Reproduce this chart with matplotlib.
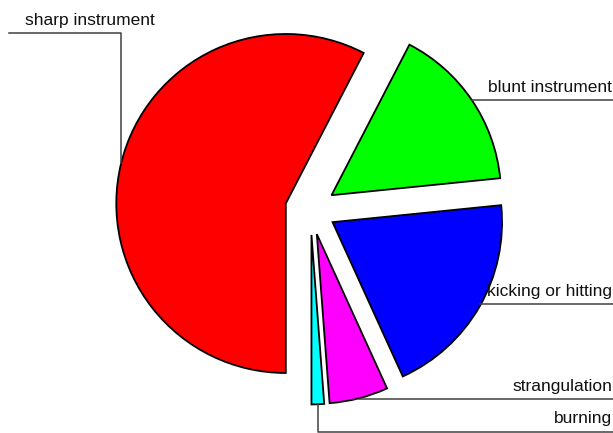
import numpy as np
import matplotlib
matplotlib.use('Agg')
import matplotlib.pyplot as plt

plt.rcParams['font.family'] = ['Liberation Sans', 'DejaVu Sans']

labels = ['sharp instrument', 'blunt instrument', 'kicking or hitting',
          'strangulation', 'burning']
values = [57.6, 15.8, 19.8, 5.6, 1.2]
colors = ['#ff0000', '#00ff00', '#0000ff', '#ff00ff', '#00ffff']

W, H = 613, 433
cx, cy = 310.5, 209.5   # pie centre, pixels
R = 169.5               # radius, pixels
line_col = '#404040'


def px(x, y):
    return (x - cx) / R, (cy - y) / R


fig = plt.figure(figsize=(W / 100, H / 100), dpi=100)
ax = fig.add_axes([0, 0, 1, 1])
wedges, _ = ax.pie(values, colors=colors, startangle=270, counterclock=False,
                   explode=[0.15] * len(values), radius=1.0,
                   wedgeprops={'edgecolor': 'black', 'linewidth': 1.3})
ax.set_aspect('auto')
ax.set_xlim(-cx / R, (W - cx) / R)
ax.set_ylim((cy - H) / R, cy / R)
ax.axis('off')

# y of the leader line for each label, in px
leaders = {
    'sharp instrument': 32.7,
    'blunt instrument': 100,
    'kicking or hitting': 304,
    'strangulation': 399,
    'burning': 431.5,
}

for w, lab in zip(wedges, labels):
    mid = np.deg2rad((w.theta1 + w.theta2) / 2)
    ax0 = w.center[0] + w.r * np.cos(mid)
    ay0 = w.center[1] + w.r * np.sin(mid)
    _, ly = px(0, leaders[lab])
    ty = ly + 8 / R
    if lab == 'sharp instrument':
        x_end, _ = px(9, 0)
        ax.plot([ax0, ax0, x_end], [ay0, ly, ly], color=line_col, lw=1.1, clip_on=False)
        tx, _ = px(25, 0)
        ax.text(tx, ty, lab, ha='left', va='baseline', fontsize=12.5, color='#111111')
    elif lab == 'burning':
        x_end, _ = px(613, 0)
        ax.plot([ax0, ax0, x_end], [ay0, ly, ly], color=line_col, lw=1.1, clip_on=False)
        tx, _ = px(612, 0)
        ax.text(tx, ty, lab, ha='right', va='baseline', fontsize=12.5, color='#111111')
    else:
        x_end, _ = px(613, 0)
        ax.plot([ax0, x_end], [ly, ly], color=line_col, lw=1.1, clip_on=False)
        tx, _ = px(612, 0)
        ax.text(tx, ty, lab, ha='right', va='baseline', fontsize=12.5, color='#111111')

fig.savefig('out.png', dpi=100)
